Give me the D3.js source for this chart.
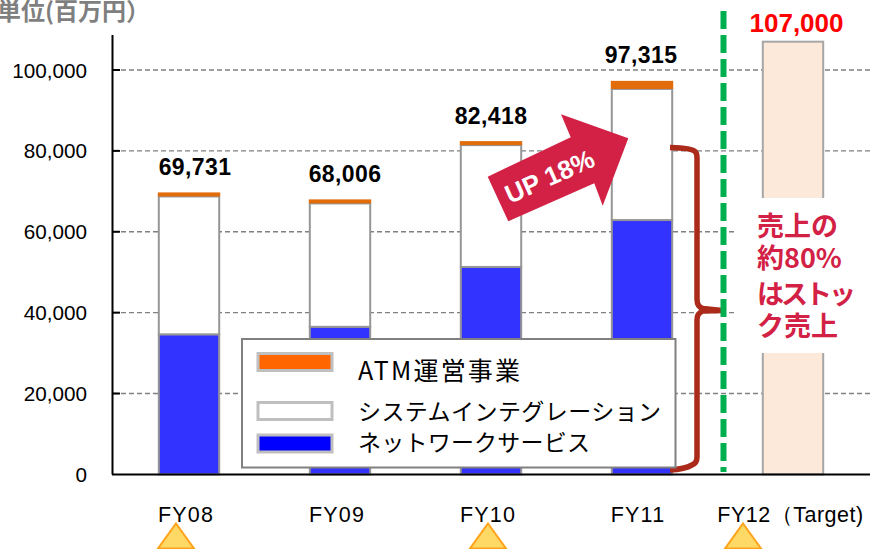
<!DOCTYPE html>
<html><head><meta charset="utf-8">
<script src="https://cdn.jsdelivr.net/npm/d3@7"></script>
<style>html,body{margin:0;padding:0;background:#fff;overflow:hidden}svg{display:block}</style>
</head><body><svg id="c" width="870" height="549"></svg>
<script>
const categories = ["FY08","FY09","FY10","FY11","FY12（Target)"];
const network = [34640,36500,51300,62900];
const system = [34091,30506,30118,32415];
const atm = [1000,1000,1000,2000];
const totals = ["69,731","68,006","82,418","97,315"];
const targetValue = 107000;
const targetLabel = "107,000";
const yTicks = [0,20000,40000,60000,80000,100000];
const legendLabels = ["ATM運営事業","システムインテグレーション","ネットワークサービス"];
const legendColors = ["#ff6600","#ffffff","#0000ff"];
const noteLines = ["売上の","約80%","はストッ","ク売上"];
const markedCategories = ["FY08","FY10","FY12（Target)"];

const JP = "'Noto Sans CJK JP',sans-serif", EN = "'Liberation Sans',Arial,sans-serif";
const svg = d3.select("#c");
const x = d3.scaleBand().domain(categories).range([113.5,868.5]).paddingInner(0.6).paddingOuter(0.3);
const y = d3.scaleLinear().domain([0,100000]).range([474.4,70]);
const xc = c => x(c)+x.bandwidth()/2;

// grid
svg.append("g").selectAll("line").data(yTicks.filter(d=>d>0)).join("line")
  .attr("x1",113).attr("x2",870).attr("y1",d=>y(d)).attr("y2",d=>y(d))
  .attr("stroke","#808080").attr("stroke-width",1.4).attr("stroke-dasharray","5 3");

// target bar
const tc = categories[4];
svg.append("rect").attr("x",x(tc)).attr("width",x.bandwidth()).attr("y",y(targetValue)).attr("height",y(0)-y(targetValue))
  .attr("fill","#fde9d9").attr("stroke","#a6a6a6").attr("stroke-width",2);

// stacked bars
const past = categories.slice(0,4);
const labelShift = [6,5,0,-1];
past.forEach((c,i)=>{
  const b0=network[i], b1=b0+system[i], b2=b1+atm[i];
  svg.append("rect").attr("x",x(c)).attr("width",x.bandwidth()).attr("y",y(b0)).attr("height",y(0)-y(b0))
    .attr("fill","#3333ff").attr("stroke","#969696").attr("stroke-width",2);
  svg.append("rect").attr("x",x(c)).attr("width",x.bandwidth()).attr("y",y(b1)).attr("height",y(b0)-y(b1))
    .attr("fill","#ffffff").attr("stroke","#969696").attr("stroke-width",2);
  svg.append("rect").attr("x",x(c)-1).attr("width",x.bandwidth()+2).attr("y",y(b2)).attr("height",y(b1)-y(b2))
    .attr("fill","#e36c0a");
  svg.append("text").attr("x",xc(c)+labelShift[i]).attr("y",y(b2)-17.5).attr("text-anchor","middle")
    .attr("font-family",EN).attr("font-weight","bold").attr("font-size",23).attr("letter-spacing",0.4).attr("fill","#000").text(totals[i]);
});
svg.append("text").attr("x",796.5).attr("y",32).attr("text-anchor","middle").attr("font-family",EN)
  .attr("font-weight","bold").attr("font-size",26).attr("fill","#ff0000").text(targetLabel);

// white box behind note
svg.append("rect").attr("x",737).attr("y",198).attr("width",133).attr("height",155).attr("fill","#fff");

// axes
svg.append("line").attr("x1",112.5).attr("x2",112.5).attr("y1",35).attr("y2",y(0)).attr("stroke","#000").attr("stroke-width",2);
svg.append("line").attr("x1",112).attr("x2",870).attr("y1",y(0)).attr("y2",y(0)).attr("stroke","#000").attr("stroke-width",2);
svg.append("g").selectAll("line").data(yTicks.filter(d=>d>0)).join("line")
  .attr("x1",112).attr("x2",120).attr("y1",d=>y(d)).attr("y2",d=>y(d)).attr("stroke","#000").attr("stroke-width",2);
svg.append("g").selectAll("text").data(yTicks).join("text")
  .attr("x",87).attr("y",d=>y(d)+7.5).attr("text-anchor","end").attr("font-family",EN).attr("font-size",20.7).attr("fill","#000")
  .text(d=>d3.format(",")(d));
svg.append("text").attr("x",-3).attr("y",20).attr("font-family",JP).attr("font-weight","bold").attr("font-size",24).attr("fill","#7f7f7f").text("単位(百万円）");

// category labels
svg.append("g").selectAll("text").data(categories).join("text")
  .attr("x",(d,i)=>[186,337,488,638,790.5][i]).attr("y",522).attr("text-anchor","middle")
  .attr("font-family",EN).attr("font-size",21.5).attr("letter-spacing",(d,i)=>i<4?1.2:0.5).attr("fill","#000").text(d=>d);

// triangles
const triX = {"FY08":176,"FY10":488,"FY12（Target)":743};
svg.append("g").selectAll("path").data(markedCategories).join("path")
  .attr("d",d=>`M${triX[d]},523.5L${triX[d]+18},548.5L${triX[d]-18},548.5Z`)
  .attr("fill","#ffd966").attr("stroke","#ffa31a").attr("stroke-width",2);

// brace
svg.append("path").attr("d","M670,147.5Q692,148 695,151.5Q697,153 697,158L697,299Q697,307 703,308.5L722,310.5L703,311Q697,313 697,320L697,457Q697,463 692,465Q685,469 670,470")
  .attr("fill","none").attr("stroke","#ab2a1a").attr("stroke-width",5.5);

// dashed divider
svg.append("line").attr("x1",723.5).attr("x2",723.5).attr("y1",11).attr("y2",472)
  .attr("stroke","#00b050").attr("stroke-width",6).attr("stroke-dasharray","18 6");

// arrow
svg.append("polygon").attr("points","487.7,176.7 570.7,137.3 561,114.3 628.3,138.3 602.7,205.7 594.3,183.3 508.3,221.3").attr("fill","#d22145");
svg.append("text").attr("transform","translate(510,204) rotate(-24)").attr("font-family",EN).attr("font-weight","bold").attr("font-size",26).attr("fill","#fff").text("UP 18%");

// note
svg.append("g").selectAll("text").data(noteLines).join("text")
  .attr("x",757).attr("y",(d,i)=>[236,268,304,336][i]).attr("font-family",JP).attr("font-weight","bold").attr("font-size",27).attr("fill","#d22145")
  .attr("letter-spacing",(d,i)=>i===2?-3:0).text(d=>d);

// legend
svg.append("rect").attr("x",242).attr("y",339).attr("width",433.5).attr("height",128.5).attr("fill","#fff").attr("stroke","#808080").attr("stroke-width",2);
const swY=[353.5,402.5,435], txtY=[380,420,451], txtW=[162,303,232];
legendLabels.forEach((t,i)=>{
  svg.append("rect").attr("x",258).attr("y",swY[i]).attr("width",74).attr("height",17).attr("fill",legendColors[i]).attr("stroke","#bfbfbf").attr("stroke-width",3);
  svg.append("text").attr("x",358).attr("y",txtY[i]).attr("font-family",JP).attr("font-size",i===0?25:23).attr("textLength",txtW[i]).attr("lengthAdjust","spacing").attr("fill","#000").text(t);
});
</script></body></html>
